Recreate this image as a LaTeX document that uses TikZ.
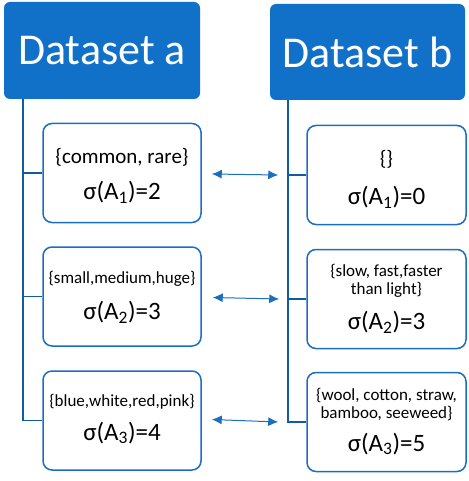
\documentclass[tikz,border=0pt]{standalone}
\usepackage{fontspec}
\setmainfont{Carlito}
\usetikzlibrary{arrows.meta}
\definecolor{hdr}{HTML}{1170C8}
\definecolor{bord}{HTML}{1C6EBF}
\definecolor{ln}{HTML}{0F5BA6}
\newcommand{\mysb}[1]{\textsubscript{#1}}
\tikzset{
  header/.style={rectangle, rounded corners=6pt, fill=hdr, text=white, inner sep=0pt,
    font=\fontsize{44}{48}\selectfont},
  valbox/.style={rectangle, rounded corners=9pt, draw=bord, line width=1.5pt, fill=white,
    minimum width=158pt, minimum height=99pt, inner sep=0pt},
  settext/.style={align=center, inner sep=0pt, font=\fontsize{17}{18}\selectfont},
  sigtext/.style={inner sep=0pt, font=\fontsize{25}{28}\selectfont},
  tree/.style={draw=ln, line width=1.5pt},
  arr/.style={draw=bord, line width=1pt, {Latex[length=10pt,width=9pt]}-{Latex[length=10pt,width=9pt]}}
}
\begin{document}
\begin{tikzpicture}[x=1pt,y=-1pt]
\useasboundingbox (0,0) rectangle (468,481);
\node[header, minimum width=196pt, minimum height=97pt] (ha) at (102,50.5) {Dataset a};
\node[header, minimum width=195pt, minimum height=96pt] (hb) at (367.5,52) {Dataset b};

\node[valbox] (a1) at (122,173) {};
\node[valbox] (a2) at (122,296.5) {};
\node[valbox] (a3) at (122,420.5) {};
\node[valbox, minimum width=159pt] (b1) at (386.5,175) {};
\node[valbox, minimum width=159pt] (b2) at (386.5,299) {};
\node[valbox, minimum width=159pt] (b3) at (386.5,422) {};

\coordinate (la) at ([xshift=19pt]ha.south west);
\coordinate (lb) at ([xshift=18pt]hb.south west);
\draw[tree] (la) |- (a3.west);
\draw[tree] (a1.west) -- (a1.west -| la);
\draw[tree] (a2.west) -- (a2.west -| la);
\draw[tree] (lb) |- (b3.west);
\draw[tree] (b1.west) -- (b1.west -| lb);
\draw[tree] (b2.west) -- (b2.west -| lb);

\draw[arr] ([xshift=10pt,yshift=-1pt]a1.east) -- ([xshift=-28pt]b1.west);
\draw[arr] ([xshift=11pt,yshift=-1pt]a2.east) -- ([xshift=-27pt]b2.west);
\draw[arr] ([xshift=10pt,yshift=1pt]a3.east) -- ([xshift=-28pt]b3.west);

\node[settext, font=\fontsize{21}{22}\selectfont] (s1) at ([yshift=16pt]a1.center) {\{common, rare\}};
\node[sigtext] (g1) at ([yshift=-19pt]a1.center) {σ(A\mysb{1})=2};
\node[settext] (s2) at ([yshift=17.5pt]a2.center) {\{small,medium,huge\}};
\node[sigtext] (g2) at ([yshift=-15.5pt]a2.center) {σ(A\mysb{2})=3};
\node[settext] (s3) at ([yshift=18.5pt]a3.center) {\{blue,white,red,pink\}};
\node[sigtext] (g3) at ([yshift=-12.5pt]a3.center) {σ(A\mysb{3})=4};

\node[settext, font=\fontsize{21}{22}\selectfont] (t1) at ([yshift=16pt]b1.center) {\{\}};
\node[sigtext] (h1) at ([yshift=-22pt]b1.center) {σ(A\mysb{1})=0};
\node[settext] (t2) at ([yshift=18pt]b2.center) {\{slow, fast,faster\\than light\}};
\node[sigtext] (h2) at ([yshift=-23pt]b2.center) {σ(A\mysb{2})=3};
\node[settext] (t3) at ([yshift=17.5pt]b3.center) {\{wool, cotton, straw,\\bamboo, seeweed\}};
\node[sigtext] (h3) at ([yshift=-22pt]b3.center) {σ(A\mysb{3})=5};
\end{tikzpicture}
\end{document}
